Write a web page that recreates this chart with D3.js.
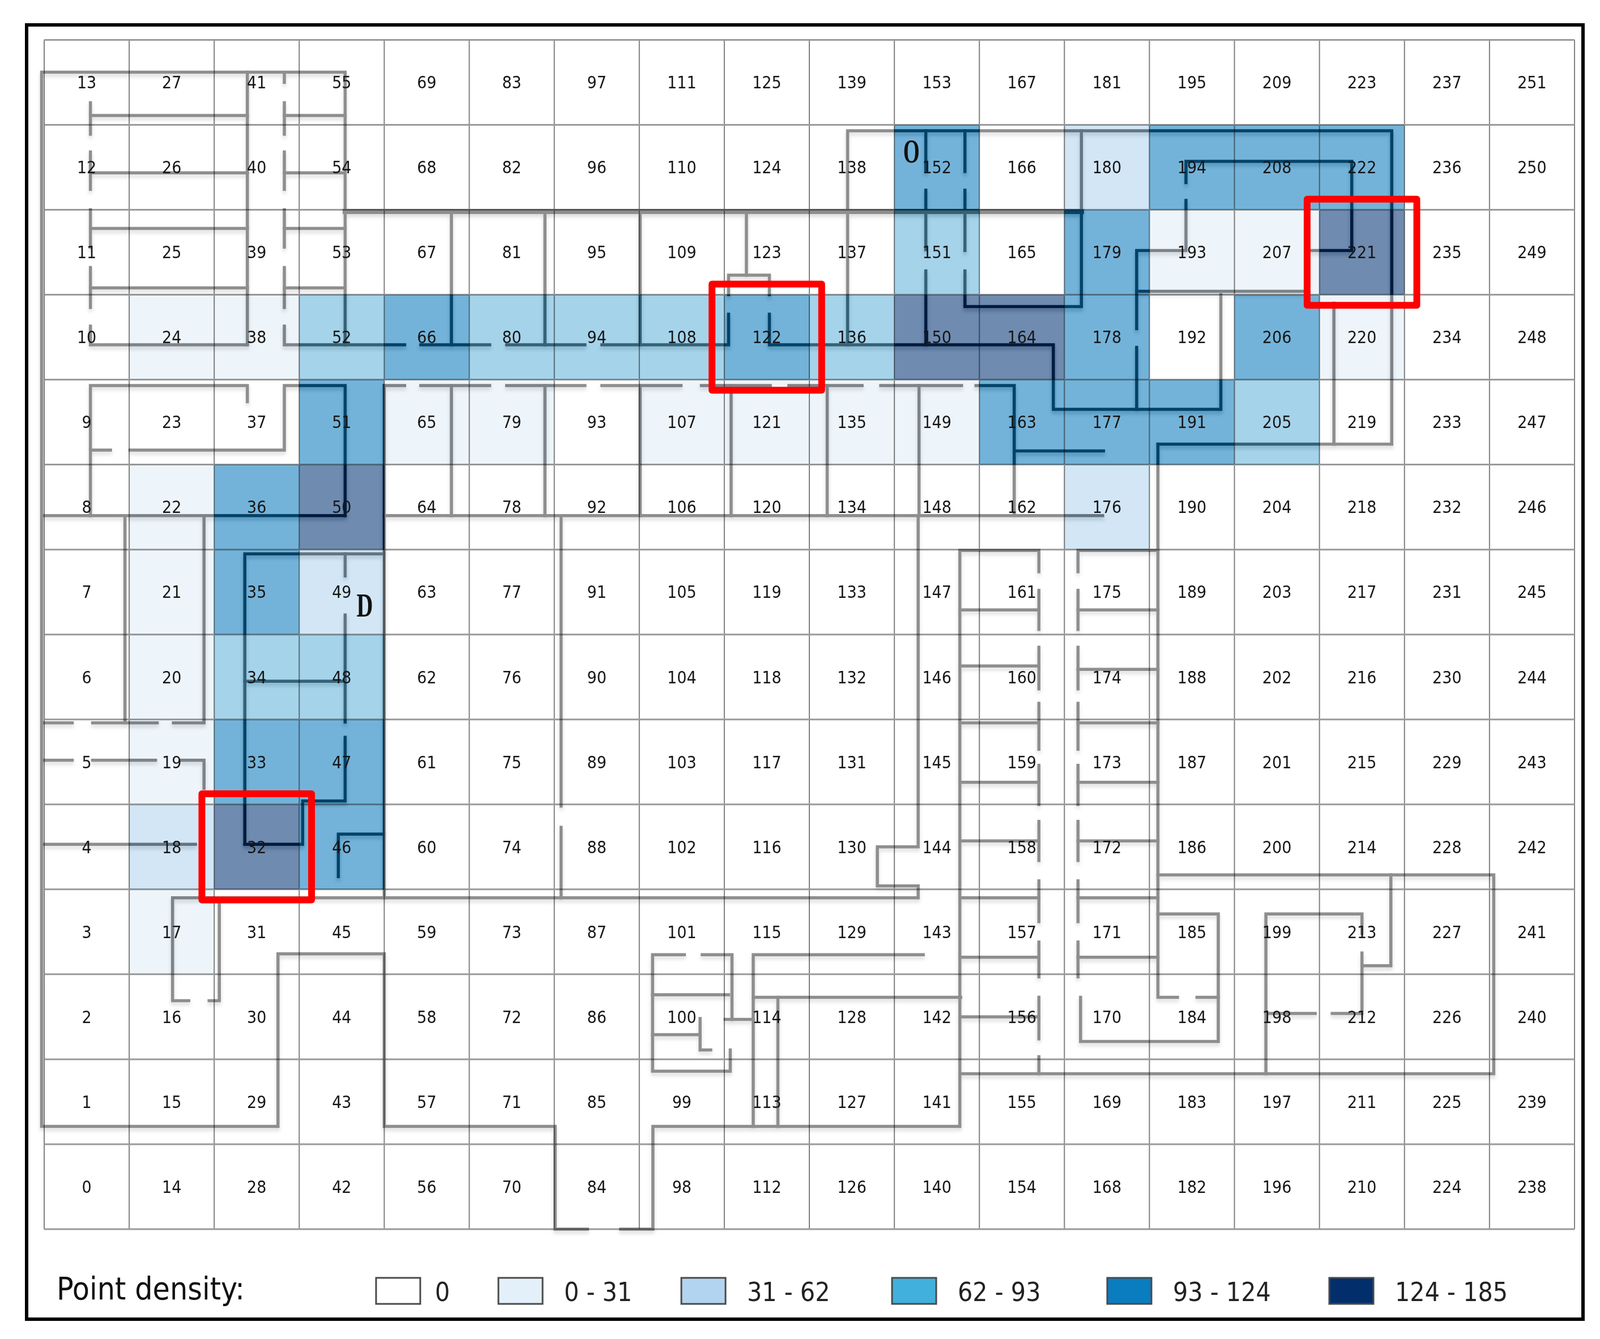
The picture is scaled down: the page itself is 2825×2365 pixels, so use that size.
<!DOCTYPE html>
<html>
<head>
<meta charset="utf-8">
<script src="https://cdn.jsdelivr.net/npm/d3@7"></script>
<style>
  body { margin: 0; background: #fff; }
  svg { display: block; }
  text { font-family: "DejaVu Sans Condensed", "DejaVu Sans", sans-serif; }
</style>
</head>
<body>
<svg id="chart"></svg>
<script>
// Grid size
var columnCount = 18,
    rowCount = 14;

// Cell ids per density class, everything else is 0
var cells0to31 = [24, 38, 65, 79, 107, 121, 135, 149, 22, 21, 20, 19, 17, 193, 207, 220];
var cells31to62 = [18, 49, 176, 180];
var cells62to93 = [52, 80, 94, 108, 136, 34, 48, 151, 205];
var cells93to124 = [36, 35, 33, 51, 47, 46, 66, 122, 152, 163, 177, 178, 179, 191, 194, 206, 208, 222];
var cells124to185 = [32, 50, 150, 164, 221];

// Legend
var legendLabels = ["0", "0 - 31", "31 - 62", "62 - 93", "93 - 124", "124 - 185"];
var legendColours = ["#ffffff", "#e3f0fa", "#b3d4f0", "#41b0dc", "#0a7cc0", "#022f6c"];
var mapColours = ["#ffffff", "#eef5fa", "#d2e6f5", "#a5d3ea", "#74b3d9", "#6f8bb0"];

// Highlighted cells
var redCells = [32, 122, 221];

// Letters on the floor plan: [text, column units, row units]
var marks = [["O", 10.2, 1.305], ["D", 3.77, 6.65]];

// Floor plan walls, polylines in grid units (column, row from the top)
var heavyWalls = [
  [[3.54, 2.02], [12.2, 2.02]]
];
var walls = [
  // north west block
  [[3.54, 3.59], [3.54, 0.38], [-0.03, 0.38], [-0.03, 12.79], [2.75, 12.79], [2.75, 10.76], [4, 10.76], [4, 12.79], [6.01, 12.79], [6.01, 14], [6.39, 14]],
  [[2.39, 0.38], [2.39, 3.59]],
  [[0.544, 0.74], [0.544, 1.11]], [[0.544, 1.32], [0.544, 1.76]], [[0.544, 2.0], [0.544, 2.44]], [[0.544, 2.68], [0.544, 3.15]],
  [[2.825, 0.4], [2.825, 0.5]], [[2.825, 0.74], [2.825, 1.11]], [[2.825, 1.32], [2.825, 1.76]], [[2.825, 2.0], [2.825, 2.44]], [[2.825, 2.68], [2.825, 3.15]],
  [[0.544, 0.89], [2.39, 0.89]], [[2.825, 0.89], [3.54, 0.89]],
  [[0.544, 1.565], [2.39, 1.565]], [[2.825, 1.565], [3.54, 1.565]],
  [[0.544, 2.22], [2.39, 2.22]], [[2.825, 2.22], [3.54, 2.22]],
  [[0.544, 2.92], [2.39, 2.92]], [[2.825, 2.92], [3.54, 2.92]],

  // corridor, north side
  [[0.544, 3.37], [0.544, 3.59], [2.39, 3.59]],
  [[2.825, 3.37], [2.825, 3.59], [4.24, 3.59]],
  [[4.43, 3.59], [5.24, 3.59]],
  [[5.44, 3.59], [6.36, 3.59]],
  [[6.56, 3.59], [8.05, 3.59], [8.05, 3.23]],
  [[8.53, 3.23], [8.53, 3.59], [11.87, 3.59], [11.87, 4.35], [13.84, 4.35], [13.84, 3.0]],
  [[4.79, 2.02], [4.79, 3.59]],
  [[5.89, 2.02], [5.89, 3.59]],
  [[7.01, 2.02], [7.01, 3.59]],
  [[8.26, 2.02], [8.26, 2.77]],
  [[8.05, 3.0], [8.05, 2.77], [8.53, 2.77], [8.53, 3.0]],

  // corridor, south side
  [[4, 4.07], [4.24, 4.07]], [[4.43, 4.07], [5.24, 4.07]], [[5.44, 4.07], [6.36, 4.07]], [[6.56, 4.07], [7.49, 4.07]],
  [[7.73, 4.07], [8.54, 4.07]], [[8.76, 4.07], [9.62, 4.07]], [[9.84, 4.07], [10.79, 4.07]],
  [[10.96, 4.07], [11.41, 4.07], [11.41, 5.59]],
  [[11.41, 4.84], [12.46, 4.84]],
  [[4.79, 4.07], [4.79, 5.6]],
  [[5.89, 4.07], [5.89, 5.6]],
  [[7.01, 4.07], [7.01, 5.6]],
  [[8.08, 4.07], [8.08, 5.6]],
  [[9.21, 4.07], [9.21, 5.6]],
  [[10.29, 4.07], [10.29, 5.6]],

  // west rooms
  [[2.39, 4.26], [2.39, 4.07], [0.544, 4.07], [0.544, 5.6]],
  [[0.544, 4.83], [0.78, 4.83]],
  [[1.01, 4.83], [2.825, 4.83], [2.825, 4.07], [3.54, 4.07], [3.54, 5.6]],
  [[0, 5.6], [3.54, 5.6]],
  [[4, 5.6], [12.45, 5.6]],
  [[4, 4.07], [4, 10.1]],
  [[0.95, 5.6], [0.95, 8.03]],
  [[1.88, 5.6], [1.88, 8.03]],
  [[0, 8.04], [0.33, 8.04]], [[0.57, 8.04], [1.33, 8.04]], [[1.52, 8.04], [1.88, 8.04]],
  [[0, 8.48], [0.33, 8.48]], [[0.57, 8.48], [1.31, 8.48]], [[1.61, 8.48], [1.88, 8.48], [1.88, 8.81]],
  [[0, 9.47], [1.78, 9.47]],
  [[2.36, 9.47], [2.36, 6.05], [4, 6.05]],
  [[2.36, 9.47], [3.04, 9.47], [3.04, 8.96], [3.54, 8.96], [3.54, 8.21]],
  [[2.36, 7.55], [3.54, 7.55]],
  [[3.54, 6.05], [3.54, 6.31]],
  [[3.54, 6.77], [3.54, 8.03]],
  [[3.46, 9.85], [3.46, 9.35], [4, 9.35]],
  [[1.7, 11.31], [1.51, 11.31], [1.51, 10.1], [10.28, 10.1], [10.28, 9.96], [9.8, 9.96], [9.8, 9.5], [10.28, 9.5], [10.28, 5.6]],
  [[1.94, 11.31], [2.06, 11.31], [2.06, 10.1]],
  [[6.08, 5.6], [6.08, 9.02]],
  [[6.08, 9.27], [6.08, 10.1]],

  // north east wing
  [[9.45, 3.59], [9.45, 1.07], [15.85, 1.07], [15.85, 4.76], [13.1, 4.76]],
  [[12.2, 1.07], [12.2, 3.14], [10.83, 3.14], [10.83, 2.72]],
  [[10.37, 1.07], [10.37, 1.55]], [[10.37, 1.77], [10.37, 2.47]], [[10.37, 2.72], [10.37, 3.59]],
  [[10.83, 1.07], [10.83, 1.55]], [[10.83, 1.77], [10.83, 2.48]],
  [[13.43, 1.68], [13.43, 1.43], [15.38, 1.43], [15.38, 2.48], [14.89, 2.48]],
  [[13.43, 1.89], [13.43, 2.48], [12.85, 2.48], [12.85, 3.4]],
  [[12.85, 3.62], [12.85, 4.35]],
  [[12.85, 2.96], [14.85, 2.96]],
  [[15.17, 3.1], [15.17, 4.76]],

  // east rooms
  [[13.1, 4.76], [13.1, 11.27], [13.33, 11.27]],
  [[13.56, 11.27], [13.81, 11.27], [13.81, 10.29], [13.1, 10.29]],
  [[13.81, 11.27], [13.81, 11.79], [12.19, 11.79], [12.19, 11.27]],
  [[13.1, 9.83], [17.05, 9.83], [17.05, 12.17], [10.77, 12.17]],
  [[15.84, 9.83], [15.84, 10.9], [15.5, 10.9]],
  [[15.5, 10.75], [15.5, 11.46], [15.15, 11.46]],
  [[14.95, 11.46], [14.37, 11.46]],
  [[15.5, 10.52], [15.5, 10.29], [14.37, 10.29], [14.37, 12.17]],

  // double loaded rooms
  [[6.78, 14], [7.16, 14], [7.16, 12.79], [10.77, 12.79], [10.77, 6.01], [11.7, 6.01], [11.7, 6.26]],
  [[11.7, 6.48], [11.7, 6.94]], [[11.7, 7.15], [11.7, 7.64]], [[11.7, 7.81], [11.7, 8.35]], [[11.7, 8.54], [11.7, 9.0]],
  [[11.7, 9.2], [11.7, 9.66]], [[11.7, 9.9], [11.7, 10.38]], [[11.7, 10.62], [11.7, 11.03]], [[11.7, 11.27], [11.7, 11.76]], [[11.7, 11.97], [11.7, 12.17]],
  [[12.16, 6.26], [12.16, 6.01], [13.1, 6.01]],
  [[12.16, 6.48], [12.16, 6.94]], [[12.16, 7.15], [12.16, 7.64]], [[12.16, 7.81], [12.16, 8.35]], [[12.16, 8.54], [12.16, 9.0]],
  [[12.16, 9.2], [12.16, 9.66]], [[12.16, 9.9], [12.16, 10.38]], [[12.16, 10.62], [12.16, 11.03]],
  [[10.77, 6.71], [11.7, 6.71]], [[12.16, 6.71], [13.1, 6.71]],
  [[10.77, 7.37], [11.7, 7.37]], [[12.16, 7.41], [13.1, 7.41]],
  [[10.77, 8.04], [11.7, 8.04]], [[12.16, 8.04], [13.1, 8.04]],
  [[10.77, 8.74], [11.7, 8.74]], [[12.16, 8.74], [13.1, 8.74]],
  [[10.77, 9.43], [11.7, 9.43]], [[12.16, 9.43], [13.1, 9.43]],
  [[10.77, 10.1], [11.7, 10.1]], [[12.16, 10.1], [13.1, 10.1]],
  [[10.77, 10.8], [11.7, 10.8]], [[12.16, 10.8], [13.1, 10.8]],
  [[10.77, 11.5], [11.7, 11.5]],

  // middle rooms
  [[7.53, 10.77], [7.156, 10.77], [7.156, 12.14], [8.07, 12.14], [8.07, 11.89]],
  [[7.74, 10.77], [8.09, 10.77], [8.09, 11.53]],
  [[8.01, 11.53], [8.34, 11.53]],
  [[10.34, 10.77], [8.34, 10.77], [8.34, 12.79]],
  [[8.34, 11.27], [10.78, 11.27]],
  [[8.63, 11.27], [8.63, 12.79]],
  [[7.156, 11.24], [8.05, 11.24]],
  [[7.156, 11.71], [7.7, 11.71]],
  [[7.715, 11.52], [7.715, 11.89], [7.84, 11.89]]
];

var width = 2825,
    height = 2365;

var x = d3.scaleLinear().domain([0, columnCount]).range([78, 2780]);
var y = d3.scaleLinear().domain([0, rowCount]).range([70.4, 2171]);

// Density class per cell id
var classOf = d3.scaleOrdinal()
  .domain(d3.merge([cells0to31, cells31to62, cells62to93, cells93to124, cells124to185]))
  .range(d3.merge([
    cells0to31.map(function () { return 1; }),
    cells31to62.map(function () { return 2; }),
    cells62to93.map(function () { return 3; }),
    cells93to124.map(function () { return 4; }),
    cells124to185.map(function () { return 5; })
  ]))
  .unknown(0);

var cellIds = d3.range(columnCount * rowCount);
function cellColumn(id) { return Math.floor(id / rowCount); }
function cellRow(id) { return rowCount - 1 - id % rowCount; }

var svg = d3.select("#chart")
  .attr("width", width)
  .attr("height", height);

svg.append("rect")
  .attr("width", width)
  .attr("height", height)
  .attr("fill", "#fff");

// Soft shadow under the walls
var shadow = svg.append("defs").append("filter")
  .attr("id", "wall-shadow")
  .attr("x", "-5%").attr("y", "-5%")
  .attr("width", "110%").attr("height", "110%");
shadow.append("feDropShadow")
  .attr("dx", 0)
  .attr("dy", 5)
  .attr("stdDeviation", 3)
  .attr("flood-color", "#000")
  .attr("flood-opacity", 0.14);

// Frame
svg.append("rect")
  .attr("x", 47)
  .attr("y", 44)
  .attr("width", 2748)
  .attr("height", 2286)
  .attr("fill", "none")
  .attr("stroke", "#000")
  .attr("stroke-width", 6);

// Walls go under the cells so the density colours tint them
var line = d3.line()
  .x(function (d) { return x(d[0]); })
  .y(function (d) { return y(d[1]); });

var wallLayer = svg.append("g")
  .attr("fill", "none")
  .attr("stroke", "#8e8e8e")
  .attr("stroke-linejoin", "miter")
  .attr("stroke-linecap", "square")
  .attr("filter", "url(#wall-shadow)");

wallLayer.selectAll(".wall")
  .data(walls)
  .enter().append("path")
  .attr("class", "wall")
  .attr("d", line)
  .attr("stroke-width", 5.5);

wallLayer.selectAll(".heavy")
  .data(heavyWalls)
  .enter().append("path")
  .attr("class", "heavy")
  .attr("d", line)
  .attr("stroke-width", 9);

// Burn pass darkens only the walls, multiply pass gives the cell its colour
function drawCells(blend) {
  svg.append("g")
    .style("mix-blend-mode", blend)
    .selectAll("rect")
    .data(cellIds.filter(function (d) { return classOf(d) > 0; }))
    .enter().append("rect")
    .attr("x", function (d) { return x(cellColumn(d)); })
    .attr("y", function (d) { return y(cellRow(d)); })
    .attr("width", x(1) - x(0))
    .attr("height", y(1) - y(0))
    .attr("fill", function (d) { return mapColours[classOf(d)]; });
}
drawCells("color-burn");
drawCells("multiply");

// Grid
var grid = svg.append("g")
  .style("mix-blend-mode", "multiply");

grid.selectAll(".v")
  .data(d3.range(columnCount + 1))
  .enter().append("line")
  .attr("class", "v")
  .attr("stroke", "#808080")
  .attr("stroke-width", 2)
  .attr("x1", function (d) { return x(d); })
  .attr("x2", function (d) { return x(d); })
  .attr("y1", y(0))
  .attr("y2", y(rowCount));

grid.selectAll(".h")
  .data(d3.range(rowCount + 1))
  .enter().append("line")
  .attr("class", "h")
  .attr("stroke", "#9a9a9a")
  .attr("stroke-width", 3)
  .attr("x1", x(0))
  .attr("x2", x(columnCount))
  .attr("y1", function (d) { return y(d); })
  .attr("y2", function (d) { return y(d); });

// Cell numbers
svg.append("g")
  .attr("text-anchor", "middle")
  .attr("font-size", 30)
  .attr("fill", "#161616")
  .selectAll("text")
  .data(cellIds)
  .enter().append("text")
  .attr("x", function (d) { return x(cellColumn(d) + 0.5); })
  .attr("y", function (d) { return y(cellRow(d) + 0.5); })
  .attr("dy", "0.36em")
  .text(function (d) { return d; });

// O and D
svg.append("g")
  .selectAll("text")
  .data(marks)
  .enter().append("text")
  .attr("x", function (d) { return x(d[1]); })
  .attr("y", function (d) { return y(d[2]); })
  .attr("text-anchor", "middle")
  .attr("dy", "0.35em")
  .attr("font-size", 60)
  .attr("font-weight", "bold")
  .attr("fill", "#111")
  .style("font-family", "'Liberation Serif', serif")
  .attr("textLength", 29)
  .attr("lengthAdjust", "spacingAndGlyphs")
  .text(function (d) { return d[0]; });

// Red boxes
svg.append("g")
  .selectAll("rect")
  .data(redCells)
  .enter().append("rect")
  .attr("x", function (d) { return x(cellColumn(d) - 0.145); })
  .attr("y", function (d) { return y(cellRow(d) - 0.125); })
  .attr("width", x(1.29) - x(0))
  .attr("height", y(1.25) - y(0))
  .attr("fill", "none")
  .attr("stroke", "#fe0000")
  .attr("stroke-width", 12)
  .attr("stroke-linejoin", "round");

// Legend
var swatchX = [664, 880, 1203, 1575, 1955, 2347];

svg.append("text")
  .attr("x", 100)
  .attr("y", 2295)
  .attr("font-size", 56)
  .attr("fill", "#111")
  .attr("textLength", 332)
  .attr("lengthAdjust", "spacingAndGlyphs")
  .text("Point density:");

var legend = svg.selectAll(".legend")
  .data(legendLabels)
  .enter().append("g")
  .attr("class", "legend")
  .attr("transform", function (d, i) { return "translate(" + swatchX[i] + ",2257)"; });

legend.append("rect")
  .attr("width", 78)
  .attr("height", 46)
  .attr("fill", function (d, i) { return legendColours[i]; })
  .attr("stroke", "#4a4a4a")
  .attr("stroke-width", 3);

legend.append("text")
  .attr("x", function (d, i) { return i === 0 ? 104 : 116; })
  .attr("y", 41)
  .attr("font-size", 46)
  .attr("fill", "#222")
  .text(function (d) { return d; });
</script>
</body>
</html>
